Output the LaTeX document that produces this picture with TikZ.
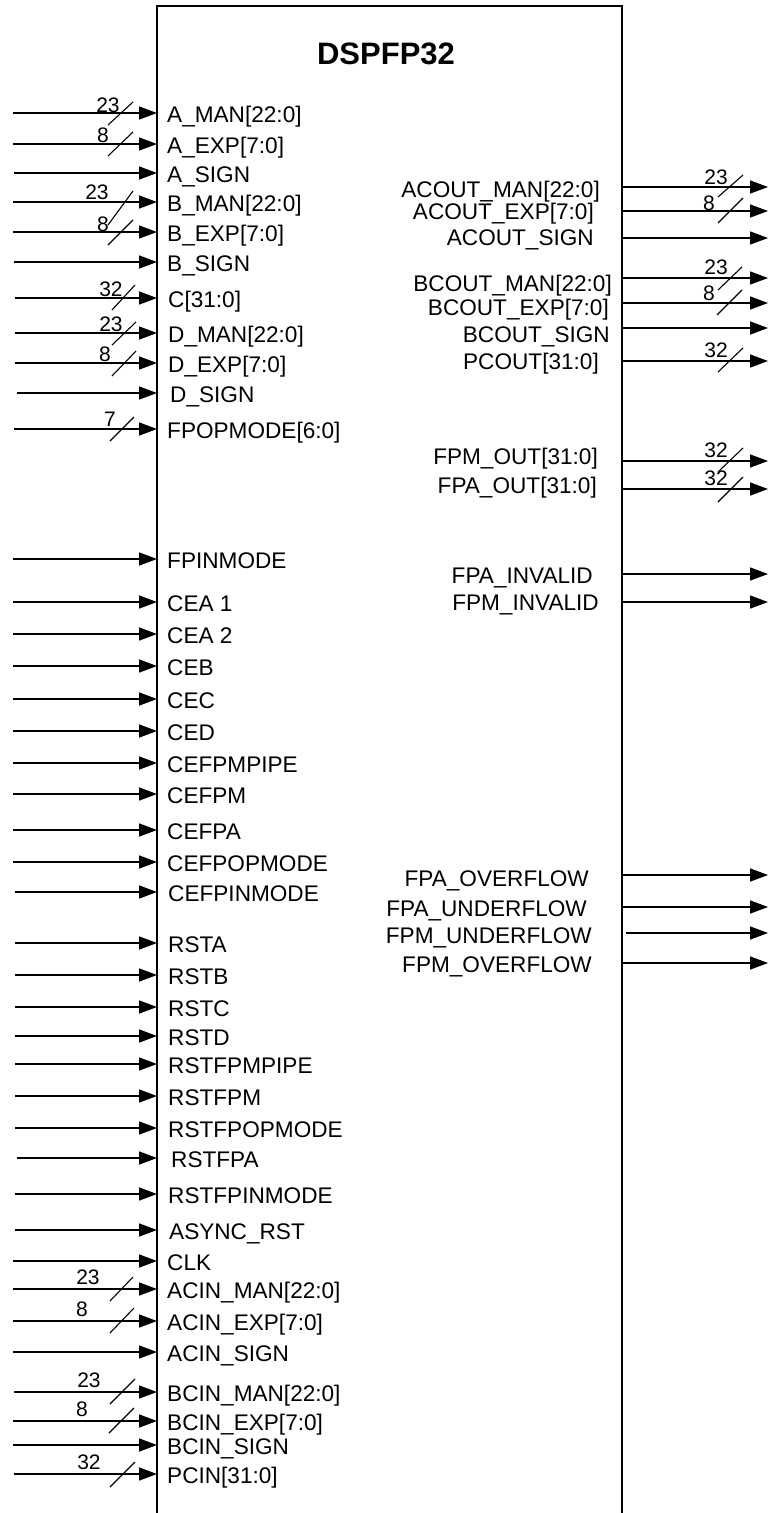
\documentclass[tikz,border=0pt]{standalone}
\usepackage{fontspec}
\setmainfont{Liberation Sans}
\usetikzlibrary{arrows.meta}
\tikzset{
  blockline/.style={line width=2.8pt},
  sig/.style={line width=1.5pt,-{Triangle[length=18pt,width=13pt]}},
  lbl/.style={font=\fontsize{22.6}{22.6}\selectfont,inner sep=0pt},
  busnum/.style={font=\fontsize{21}{21}\selectfont,inner sep=0pt},
  busslash/.style={line width=1.1pt},
  titlefont/.style={font=\bfseries\fontsize{31}{31}\selectfont,inner sep=0pt}
}
\begin{document}
\begin{tikzpicture}[x=1pt,y=-1pt]
\useasboundingbox (0,0) rectangle (770,1513);
% block outline (open at the bottom)
\coordinate (bl) at (157,1515);
\coordinate (tl) at (157,6);
\coordinate (tr) at (622,6);
\coordinate (br) at (622,1515);
\draw[blockline] (bl) -- (tl) -- (tr) -- (br);
\node[titlefont,anchor=base] (title) at (386,64) {DSPFP32};
% inputs
\foreach \i/\y/\sx/\tx/\t in {
 1/113/13/167/A\_MAN[22:0],
 2/144/13/167/A\_EXP[7:0],
 3/173/14/167/A\_SIGN,
 4/202/13/167/B\_MAN[22:0],
 5/232/13/167/B\_EXP[7:0],
 6/262/14/167/B\_SIGN,
 7/298/15/168/C[31:0],
 8/333/15/168/D\_MAN[22:0],
 9/363/15/168/D\_EXP[7:0],
 10/393/17/170/D\_SIGN,
 11/429/14/167/FPOPMODE[6:0],
 12/559/13/167/FPINMODE,
 13/602/13/167/CEA 1,
 14/634/13/167/CEA 2,
 15/666/13/167/CEB,
 16/699/13/167/CEC,
 17/731/13/167/CED,
 18/763/13/167/CEFPMPIPE,
 19/794/13/167/CEFPM,
 20/830/13/167/CEFPA,
 21/862/13/167/CEFPOPMODE,
 22/892/15/168/CEFPINMODE,
 23/943/15/168/RSTA,
 24/975/15/168/RSTB,
 25/1007/15/168/RSTC,
 26/1036/15/168/RSTD,
 27/1064/15/168/RSTFPMPIPE,
 28/1096/15/168/RSTFPM,
 29/1128/15/168/RSTFPOPMODE,
 30/1158/17/171/RSTFPA,
 31/1194/15/168/RSTFPINMODE,
 32/1230/15/169/ASYNC\_RST,
 33/1261/13/167/CLK,
 34/1289/13/167/ACIN\_MAN[22:0],
 35/1321/13/167/ACIN\_EXP[7:0],
 36/1352/13/167/ACIN\_SIGN,
 37/1392/14/167/BCIN\_MAN[22:0],
 38/1421/13/167/BCIN\_EXP[7:0],
 39/1445/13/167/BCIN\_SIGN,
 40/1474/14/167/PCIN[31:0]}{
  \coordinate (is\i) at (\sx,\y);
  \coordinate (ip\i) at (157,\y);
  \node[lbl,anchor=base west] (il\i) at (\tx,\y+9) {\t};
  \draw[sig] (is\i) -- (ip\i);
}
% outputs
\foreach \i/\y/\ty/\tx/\sx/\t in {
 1/187/189/600/623/ACOUT\_MAN[22:0],
 2/211/211/594/623/ACOUT\_EXP[7:0],
 3/238/237/594/623/ACOUT\_SIGN,
 4/278/283/612/623/BCOUT\_MAN[22:0],
 5/303/307/609/623/BCOUT\_EXP[7:0],
 6/328/334/610/623/BCOUT\_SIGN,
 7/361/361/599/623/PCOUT[31:0],
 8/461/456/598/623/FPM\_OUT[31:0],
 9/489/485/597/623/FPA\_OUT[31:0],
 10/574/575/593/623/FPA\_INVALID,
 11/602/602/599/623/FPM\_INVALID,
 12/875/878/589/623/FPA\_OVERFLOW,
 13/907/908/587/623/FPA\_UNDERFLOW,
 14/933/935/592/626/FPM\_UNDERFLOW,
 15/963/964/592/623/FPM\_OVERFLOW}{
  \coordinate (op\i) at (\sx,\y);
  \coordinate (oe\i) at (768,\y);
  \node[lbl,anchor=base east] (ol\i) at (\tx,\ty+8) {\t};
  \draw[sig] (op\i) -- (oe\i);
}
% bus width marks
\foreach \k/\n/\cx/\cy/\ax/\ay/\bx/\by in {
 1/23/108/105/108/125/133/102,
 2/8/103/135/108/156/133/132,
 3/23/97/192/108/225/133/191,
 4/8/103/224/108/245/133/220,
 5/32/111/289/112/310/135/285,
 6/23/111/324/112/345/136/322,
 7/8/105/354/112/376/136/351,
 8/7/110/419/110/441/134/417,
 9/23/88/1277/110/1301/133/1277,
 10/8/82/1309/110/1333/134/1308,
 11/23/89/1380/110/1404/135/1379,
 12/8/82/1409/109/1433/134/1408,
 13/32/89/1462/110/1487/135/1462,
 14/23/716/177/718/197/743/175,
 15/8/709/203/718/223/743/198,
 16/23/716/267/718/290/742/267,
 17/8/709/293/717/315/742/290,
 18/32/716/350/718/372/743/348,
 19/32/716/450/718/472/743/448,
 20/32/716/478/718/502/743/477}{
  \node[busnum,anchor=base] (bw\k) at (\cx,\cy+7.5) {\n};
  \coordinate (sa\k) at (\ax,\ay);
  \coordinate (sb\k) at (\bx,\by);
  \draw[busslash] (sa\k) -- (sb\k);
}
\end{tikzpicture}
\end{document}
